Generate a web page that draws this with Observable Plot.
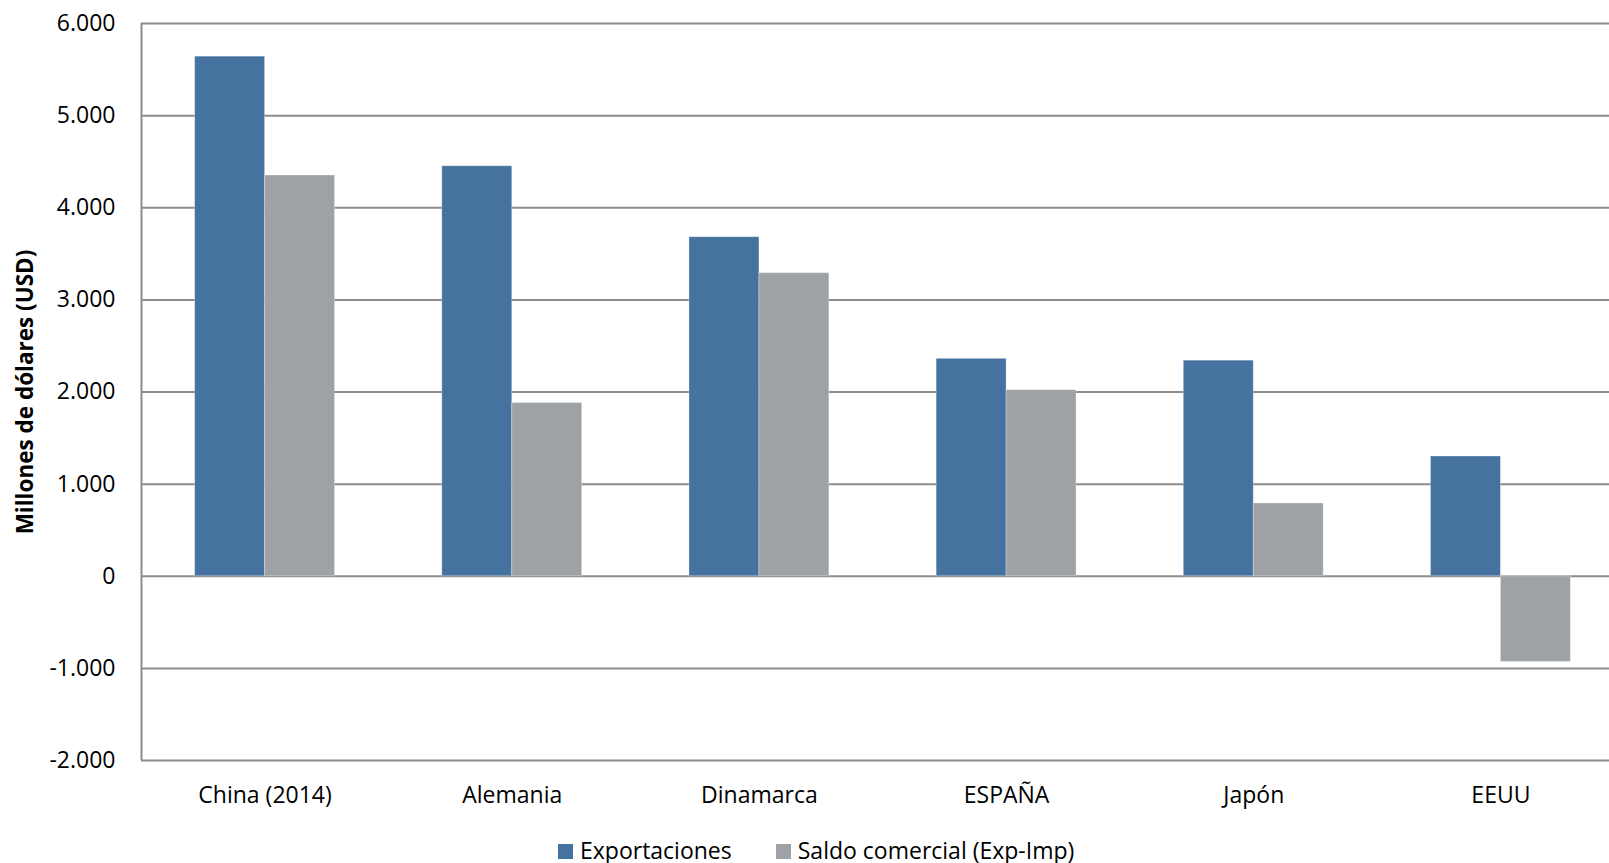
<!DOCTYPE html>
<html>
<head>
<meta charset="utf-8">
<script src="https://cdn.jsdelivr.net/npm/d3@7"></script>
<script src="https://cdn.jsdelivr.net/npm/@observablehq/plot@0.6"></script>
<style>
  html, body { margin: 0; padding: 0; background: #fff; }
  body { width: 1609px; height: 863px; position: relative; overflow: hidden; font-family: "Open Sans", sans-serif; }
  #chart svg { display: block; }
  #legend { position: absolute; left: 558px; top: 835px; display: flex; align-items: center; font-size: 23px; color: #000; line-height: 31px; white-space: nowrap; }
  #legend .item { display: flex; align-items: center; }
  #legend .item + .item { margin-left: 44px; }
  #legend .sw { width: 15px; height: 15px; margin-right: 7px; margin-top: 2px; }
</style>
</head>
<body>
<div id="chart"></div>
<div id="legend"></div>
<script>
// Exports and trade balance by country, millions of USD
const countries = ["China (2014)", "Alemania", "Dinamarca", "ESPAÑA", "Japón", "EEUU"];
const seriesNames = ["Exportaciones", "Saldo comercial (Exp-Imp)"];
const exportaciones = [5640, 4450, 3680, 2360, 2340, 1300];
const saldoComercial = [4350, 1880, 3290, 2020, 790, -930];
const yTicks = [-2000, -1000, 0, 1000, 2000, 3000, 4000, 5000, 6000];
const seriesColors = ["#45729f", "#9ea2a6"];

// One row per bar; the category index places each pair on the x axis
const rows = countries.flatMap((country, i) => [
  {i, country, series: seriesNames[0], k: 0, value: exportaciones[i]},
  {i, country, series: seriesNames[1], k: 1, value: saldoComercial[i]}
]);

// share of each category slot taken by one bar (two bars side by side)
const barShare = 0.283;

// Spanish number format: 6.000, -1.000
const fmt = d3.formatLocale({decimal: ",", thousands: ".", grouping: [3], currency: ["", ""], minus: "-"}).format(",");

const gridColor = "#8c8c8c";

const chart = Plot.plot({
  width: 1609,
  height: 822,
  marginLeft: 141,
  marginRight: 0,
  marginTop: 23,
  marginBottom: 62,
  style: {fontFamily: "'Open Sans', sans-serif", fontSize: "23px", color: "#000", background: "#fff"},
  // the last category slot runs slightly past the right edge of the figure
  x: {domain: [-0.5, countries.length - 0.5], range: [141, 1624], label: null},
  y: {domain: [-2000, 6000], label: null},
  color: {domain: seriesNames, range: seriesColors},
  marks: [
    Plot.ruleY(yTicks, {stroke: gridColor, strokeWidth: 2}),
    Plot.ruleX([-0.5], {y1: -2000, y2: 6000, stroke: gridColor, strokeWidth: 2}),
    Plot.rectY(rows, {
      x1: d => d.i + (d.k - 1) * barShare,
      x2: d => d.i + d.k * barShare,
      y1: 0,
      y2: "value",
      fill: "series",
      stroke: "#fff",
      strokeOpacity: 0.3,
      strokeWidth: 1
    }),
    Plot.axisX({ticks: d3.range(countries.length), tickFormat: i => countries[i], tickSize: 0, tickPadding: 26, label: null, fill: "#000"}),
    Plot.axisY({ticks: yTicks, tickSize: 0, tickPadding: 26, tickFormat: fmt, label: null, fill: "#000"}),
    Plot.text(["Millones de dólares (USD)"], {
      frameAnchor: "left", dx: -116, rotate: -90, textAnchor: "middle",
      fontWeight: "bold", fontSize: 22.5, fill: "#000"
    })
  ]
});
document.getElementById("chart").appendChild(chart);

// Legend below the plot
const legend = d3.select("#legend");
seriesNames.forEach((name, i) => {
  const item = legend.append("div").attr("class", "item");
  item.append("div").attr("class", "sw").style("background", seriesColors[i]);
  item.append("span").text(name);
});
</script>
</body>
</html>
